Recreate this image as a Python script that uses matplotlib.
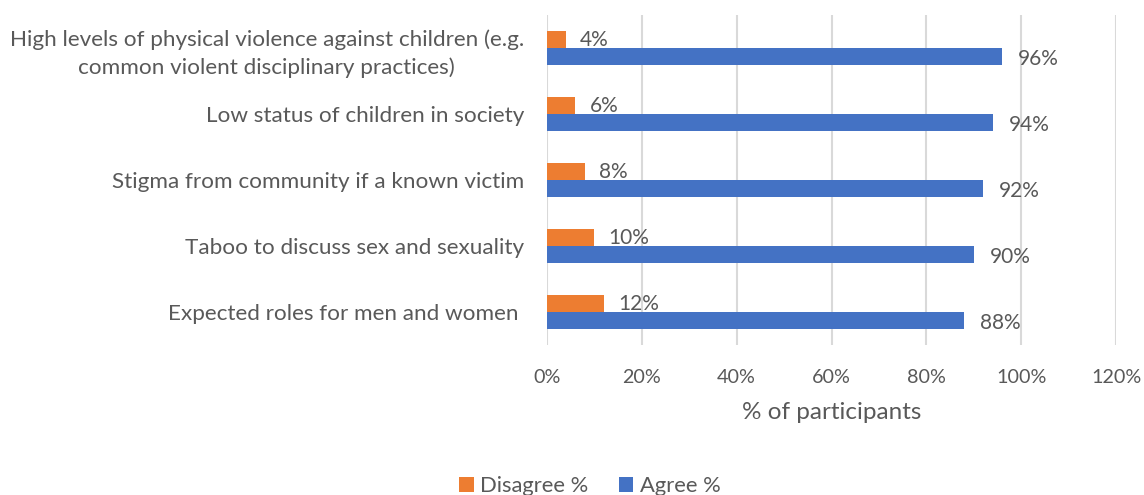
import numpy as np
import matplotlib
matplotlib.use("Agg")
import matplotlib.pyplot as plt
from matplotlib.ticker import FuncFormatter

# Excel-like look: humanist sans, grey text
matplotlib.rcParams['font.family'] = ['Lato', 'DejaVu Sans']
TXT = '#595959'

categories = ["High levels of physical violence against children (e.g.\ncommon violent disciplinary practices)",
              "Low status of children in society",
              "Stigma from community if a known victim",
              "Taboo to discuss sex and sexuality",
              "Expected roles for men and women "]
disagree = [4, 6, 8, 10, 12]
agree = [96, 94, 92, 90, 88]
xticks = [0, 20, 40, 60, 80, 100, 120]

fig = plt.figure(figsize=(11.44, 4.95), dpi=100)
ax = fig.add_axes([547/1144, 1-345/495, (1116-547)/1144, 330/495])

ypos = np.arange(len(categories))[::-1]
h = 0.258
ax.barh(ypos + h/2, disagree, height=h, color='#ED7D31', label='Disagree %', zorder=3)
ax.barh(ypos - h/2, agree, height=h, color='#4472C4', label='Agree %', zorder=3)

for y, d, a in zip(ypos, disagree, agree):
    ax.annotate(f"{d}%", (d, y + h/2), xytext=(14, -1), textcoords='offset pixels',
                va='center', ha='left', fontsize=15, color=TXT)
    ax.annotate(f"{a}%", (a, y - h/2), xytext=(16, -2), textcoords='offset pixels',
                va='center', ha='left', fontsize=15, color=TXT)

ax.set_xlim(0, 120)
ax.set_ylim(-0.5, len(categories) - 0.5)
ax.set_xticks(xticks)
ax.xaxis.set_major_formatter(FuncFormatter(lambda v, p: f"{v:.0f}%"))
ax.set_yticks(ypos)
ax.set_yticklabels(categories, ha='center', multialignment='center', linespacing=1.45)
ax.tick_params(axis='y', length=0, pad=0, labelsize=16.2, labelcolor=TXT)
ax.tick_params(axis='x', length=0, pad=17, labelsize=14.2, labelcolor=TXT)
# center-aligned y labels need manual offset so their right edges sit near the axis
fig.canvas.draw()
for lab in ax.get_yticklabels():
    bb = lab.get_window_extent()
    lab.set_x(-(bb.width/2 + 23) / ax.get_window_extent().width)

ax.grid(axis='x', color='#D9D9D9', lw=1.5, zorder=0)
for s in ax.spines.values():
    s.set_visible(False)

ax.set_xlabel("% of participants", fontsize=17.5, color=TXT, labelpad=12)

fig.legend(loc='center', bbox_to_anchor=(590/1144, 1-486/495), ncol=2, frameon=False,
           fontsize=15.8, labelcolor=TXT, handlelength=0.65, handleheight=0.65,
           handletextpad=0.3, columnspacing=1.4)

fig.savefig("out.png", dpi=100)
